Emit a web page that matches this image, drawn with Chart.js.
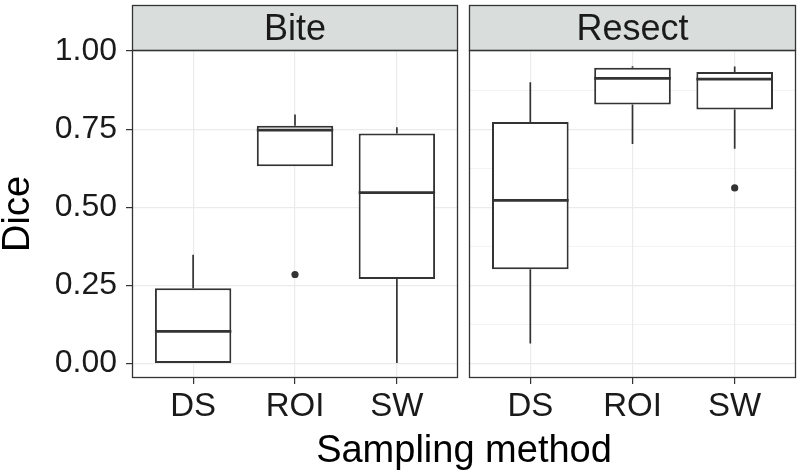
<!DOCTYPE html>
<html>
<head>
<meta charset="utf-8">
<script src="https://cdn.jsdelivr.net/npm/chart.js@4.4.1/dist/chart.umd.min.js"></script>
<style>
  body { margin: 0; background: #fff; }
  #wrap { position: relative; width: 800px; height: 475px; overflow: hidden; }
  canvas { position: absolute; top: 0; }
  #xtitle {
    position: absolute; left: 264px; width: 400px; top: 430px;
    text-align: center; font: 38px/38px "Liberation Sans", Arial, sans-serif; color: #000;
  }
</style>
</head>
<body>
<div id="wrap">
  <canvas id="bite" width="462" height="475" style="left:0"></canvas>
  <canvas id="resect" width="336" height="475" style="left:464px"></canvas>
  <div id="xtitle">Sampling method</div>
</div>
<script>
// categories and facets
const categories = ["DS", "ROI", "SW"];
const xPos = [1, 2, 3];

// y ticks (major labelled, minor just grid)
const yMajor = [0, 0.25, 0.5, 0.75, 1];
const yMinor = [0.125, 0.375, 0.625, 0.875];

// Bite five-number summaries
const biteMin = [0.0, 0.631, 0.002];
const biteQ1 = [0.0, 0.631, 0.271];
const biteMed = [0.103, 0.747, 0.547];
const biteQ3 = [0.241, 0.761, 0.736];
const biteMax = [0.348, 0.797, 0.756];
const biteOut = [[], [0.285], []];

// Resect
const resectMin = [0.064, 0.702, 0.687];
const resectQ1 = [0.302, 0.829, 0.813];
const resectMed = [0.522, 0.912, 0.910];
const resectQ3 = [0.773, 0.946, 0.933];
const resectMax = [0.900, 0.951, 0.950];
const resectOut = [[], [], [0.562]];

const FONT = '"Liberation Sans", Arial, sans-serif';
const INK = "#333333";
const GRID = "#ebebeb";
const HALF = 0.375; // half box width, in category units

// draws panel border + the grey strip with the facet name
const facetPlugin = {
    id: "facet",
    afterDraw(chart, args, opts) {
        const { ctx, chartArea: a } = chart;
        const w = a.right - a.left;
        ctx.save();
        ctx.fillStyle = "#d9dedd";
        ctx.fillRect(a.left, 5, w, a.top - 5);
        ctx.strokeStyle = INK;
        ctx.lineWidth = 1.3;
        ctx.strokeRect(a.left + 0.5, 5.5, w - 1, a.top - 5);
        ctx.strokeRect(a.left + 0.5, a.top + 0.5, w - 1, a.bottom - a.top - 1);
        ctx.fillStyle = "#1a1a1a";
        ctx.font = "36px " + FONT;
        ctx.textAlign = "center";
        ctx.textBaseline = "alphabetic";
        ctx.fillText(opts.text, (a.left + a.right) / 2, 40);
        ctx.restore();
    }
};

function makePanel(id, name, mins, q1s, meds, q3s, maxs, outs, first) {
    const boxes = xPos.map((x, i) => ({ x: x, y: [q1s[i], q3s[i]] }));
    const whiskers = [];
    const medians = [];
    const points = [];
    xPos.forEach((x, i) => {
        whiskers.push({ x: x, y: q3s[i] }, { x: x, y: maxs[i] }, { x: x, y: null });
        whiskers.push({ x: x, y: mins[i] }, { x: x, y: q1s[i] }, { x: x, y: null });
        medians.push({ x: x - HALF, y: meds[i] }, { x: x + HALF, y: meds[i] }, { x: x, y: null });
        outs[i].forEach(v => points.push({ x: x, y: v }));
    });

    const allY = yMajor.concat(yMinor).sort((a, b) => a - b);
    const isMajor = v => yMajor.some(m => Math.abs(m - v) < 1e-9);

    new Chart(document.getElementById(id), {
        type: "bar",
        data: {
            datasets: [
                {
                    type: "bar", data: boxes, order: 3,
                    backgroundColor: "#ffffff", borderColor: INK, borderWidth: 2,
                    borderSkipped: false, barPercentage: 0.75, categoryPercentage: 1
                },
                {
                    type: "line", data: whiskers, order: 2,
                    borderColor: INK, borderWidth: 1.7, pointRadius: 0, spanGaps: false
                },
                {
                    type: "line", data: medians, order: 1,
                    borderColor: INK, borderWidth: 2.8, pointRadius: 0, spanGaps: false
                },
                {
                    type: "scatter", data: points, order: 0,
                    pointRadius: 3.6, backgroundColor: INK, borderWidth: 0
                }
            ]
        },
        options: {
            responsive: false,
            animation: false,
            devicePixelRatio: 1,
            layout: { padding: first ? { top: 50, right: 3, left: 0, bottom: 0 } : { top: 50, right: 4, left: 5, bottom: 0 } },
            plugins: {
                legend: { display: false },
                tooltip: { enabled: false },
                facet: { text: name }
            },
            scales: {
                x: {
                    type: "linear", min: 0.4, max: 3.6, offset: false,
                    afterBuildTicks: s => { s.ticks = xPos.map(v => ({ value: v })); },
                    afterFit: s => { s.height = 97; },
                    ticks: {
                        autoSkip: false, maxRotation: 0, padding: 3,
                        color: "#1a1a1a", font: { family: FONT, size: 33 },
                        callback: (v, i) => categories[i]
                    },
                    grid: { offset: false, color: GRID, lineWidth: 1.2, tickColor: INK, tickLength: 6, tickWidth: 1.2 },
                    border: { display: false }
                },
                y: {
                    type: "linear", min: -0.046, max: 1.003,
                    afterBuildTicks: s => { s.ticks = allY.map(v => ({ value: v })); },
                    afterFit: s => { s.width = first ? 132 : 0; },
                    ticks: {
                        display: first, padding: 9,
                        color: "#1a1a1a", font: { family: FONT, size: 32 },
                        callback: v => isMajor(v) ? v.toFixed(2) : ""
                    },
                    grid: {
                        color: GRID,
                        lineWidth: c => isMajor(c.tick.value) ? 1.2 : 0.6,
                        drawTicks: first,
                        tickLength: 6,
                        tickWidth: 1.2,
                        tickColor: c => isMajor(c.tick.value) ? INK : "rgba(0,0,0,0)"
                    },
                    border: { display: false },
                    title: {
                        display: first, text: "Dice", color: "#000",
                        font: { family: FONT, size: 38, lineHeight: 1 }, padding: 0
                    }
                }
            }
        },
        plugins: [facetPlugin]
    });
}

makePanel("bite", "Bite", biteMin, biteQ1, biteMed, biteQ3, biteMax, biteOut, true);
makePanel("resect", "Resect", resectMin, resectQ1, resectMed, resectQ3, resectMax, resectOut, false);
</script>
</body>
</html>
